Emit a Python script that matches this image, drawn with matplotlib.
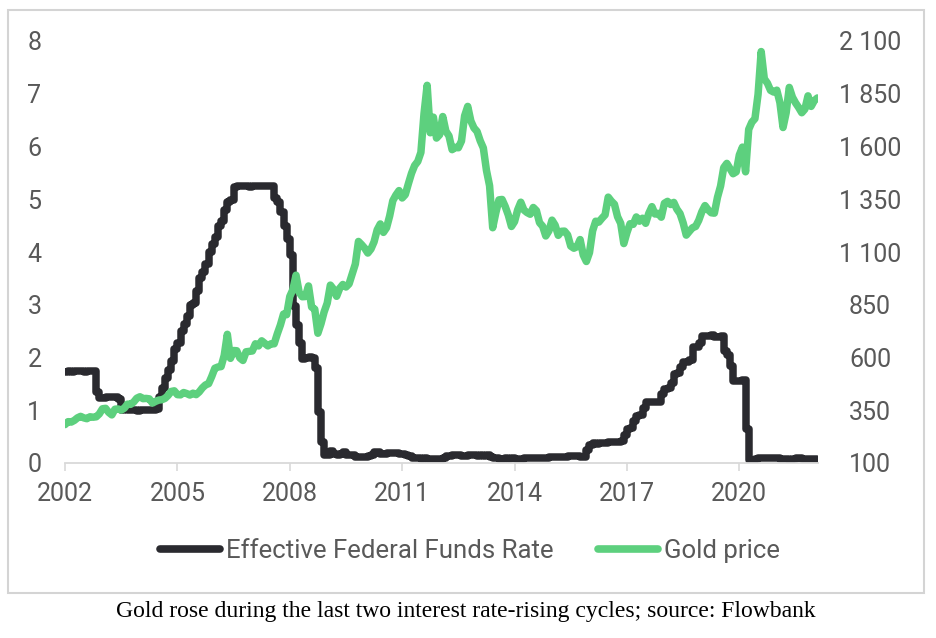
import numpy as np
import matplotlib
matplotlib.use("Agg")
import matplotlib.pyplot as plt
from matplotlib.patches import Rectangle
from matplotlib.ticker import FixedLocator, FuncFormatter

# ---- data (monthly, Jan 2002 .. Feb 2022) ----
start_year = 2002
fed_rate = [
    1.73, 1.74, 1.73, 1.75, 1.75, 1.75, 1.73, 1.74, 1.75, 1.75, 1.34, 1.24,
    1.24, 1.26, 1.25, 1.26, 1.26, 1.22, 1.01, 1.03, 1.01, 1.01, 1.00, 0.98,
    1.00, 1.01, 1.00, 1.00, 1.00, 1.03, 1.26, 1.43, 1.61, 1.76, 1.93, 2.16,
    2.28, 2.50, 2.63, 2.79, 3.00, 3.04, 3.26, 3.50, 3.62, 3.78, 4.00, 4.16,
    4.29, 4.49, 4.59, 4.79, 4.94, 4.99, 5.24, 5.25, 5.25, 5.25, 5.25, 5.24,
    5.25, 5.26, 5.26, 5.25, 5.25, 5.25, 5.26, 5.02, 4.94, 4.76, 4.49, 4.24,
    3.94, 2.98, 2.61, 2.28, 1.98, 2.00, 2.01, 2.00, 1.81, 0.97, 0.39, 0.16,
    0.15, 0.22, 0.18, 0.15, 0.18, 0.21, 0.16, 0.16, 0.15, 0.12, 0.12, 0.12,
    0.11, 0.13, 0.16, 0.20, 0.20, 0.18, 0.18, 0.19, 0.19, 0.19, 0.19, 0.18,
    0.17, 0.16, 0.14, 0.10, 0.09, 0.09, 0.07, 0.10, 0.08, 0.07, 0.08, 0.07,
    0.08, 0.10, 0.13, 0.14, 0.16, 0.16, 0.16, 0.13, 0.14, 0.16, 0.16, 0.16,
    0.14, 0.15, 0.14, 0.15, 0.11, 0.09, 0.09, 0.08, 0.08, 0.09, 0.08, 0.09,
    0.07, 0.07, 0.08, 0.09, 0.09, 0.10, 0.09, 0.09, 0.09, 0.09, 0.09, 0.12,
    0.11, 0.11, 0.11, 0.12, 0.12, 0.13, 0.13, 0.14, 0.14, 0.12, 0.12, 0.24,
    0.34, 0.38, 0.36, 0.37, 0.37, 0.38, 0.39, 0.40, 0.40, 0.40, 0.41, 0.54,
    0.65, 0.66, 0.79, 0.90, 0.91, 1.04, 1.15, 1.16, 1.15, 1.15, 1.16, 1.30,
    1.41, 1.42, 1.51, 1.69, 1.70, 1.82, 1.91, 1.91, 1.95, 2.19, 2.20, 2.27,
    2.40, 2.40, 2.41, 2.42, 2.39, 2.38, 2.40, 2.13, 2.04, 1.83, 1.55, 1.55,
    1.55, 1.58, 0.65, 0.05, 0.05, 0.08, 0.09, 0.10, 0.09, 0.09, 0.09, 0.09,
    0.09, 0.08, 0.07, 0.07, 0.06, 0.08, 0.10, 0.09, 0.08, 0.08, 0.08, 0.08,
    0.08, 0.08,
]
gold_price = [
    282, 296, 294, 302, 314, 321, 314, 310, 319, 317, 319, 333,
    357, 359, 340, 328, 355, 356, 351, 360, 379, 378, 389, 407,
    414, 405, 406, 404, 384, 392, 398, 400, 406, 420, 439, 442,
    424, 423, 434, 429, 422, 431, 424, 437, 456, 470, 476, 510,
    549, 555, 557, 610, 710, 596, 633, 632, 598, 586, 627, 629,
    631, 665, 655, 679, 667, 655, 665, 665, 712, 754, 806, 803,
    889, 922, 990, 909, 888, 889, 939, 839, 829, 715, 760, 816,
    858, 943, 924, 890, 928, 946, 934, 949, 996, 1043, 1150, 1135,
    1118, 1095, 1114, 1148, 1205, 1233, 1193, 1215, 1271, 1343, 1370, 1391,
    1356, 1372, 1424, 1473, 1510, 1529, 1572, 1756, 1890, 1665, 1739, 1640,
    1656, 1742, 1673, 1650, 1585, 1596, 1594, 1626, 1745, 1790, 1721, 1688,
    1671, 1627, 1593, 1487, 1414, 1215, 1286, 1347, 1349, 1316, 1275, 1221,
    1244, 1300, 1336, 1299, 1287, 1279, 1311, 1296, 1239, 1222, 1176, 1200,
    1251, 1227, 1179, 1198, 1199, 1181, 1128, 1118, 1125, 1159, 1086, 1055,
    1097, 1200, 1246, 1242, 1260, 1276, 1360, 1341, 1326, 1267, 1236, 1140,
    1192, 1234, 1231, 1266, 1246, 1260, 1236, 1283, 1315, 1280, 1283, 1265,
    1331, 1340, 1325, 1335, 1303, 1282, 1238, 1180, 1198, 1215, 1221, 1250,
    1291, 1320, 1300, 1286, 1284, 1359, 1413, 1500, 1520, 1495, 1471, 1480,
    1560, 1597, 1480, 1681, 1715, 1732, 1847, 2050, 1921, 1900, 1866, 1858,
    1867, 1808, 1690, 1760, 1880, 1834, 1807, 1785, 1760, 1777, 1840, 1790,
    1817, 1830,
]
year_ticks = [2002, 2005, 2008, 2011, 2014, 2017, 2020]
left_ticks = [0, 1, 2, 3, 4, 5, 6, 7, 8]
right_ticks = [100, 350, 600, 850, 1100, 1350, 1600, 1850, 2100]
fed_label = "Effective Federal Funds Rate"
gold_label = "Gold price"
caption = "Gold rose during the last two interest rate-rising cycles; source: Flowbank"

dates = start_year + np.arange(len(fed_rate)) / 12.0

# ---- style ----
FONT = "Roboto"
TXT = "#595959"
FED_C = "#2a2a2f"
GOLD_C = "#5dd07e"
FS = 18
LW = 5.4

fig = plt.figure(figsize=(9.36, 6.38), dpi=100)
ax = fig.add_axes([65 / 936, 1 - 463 / 638, (818 - 65) / 936, (463 - 41) / 638])
ax2 = ax.twinx()

l1, = ax.plot(dates, fed_rate, color=FED_C, lw=LW, drawstyle="steps-post",
              solid_capstyle="round", solid_joinstyle="round", label=fed_label)
l2, = ax2.plot(dates, gold_price, color=GOLD_C, lw=LW,
               solid_capstyle="round", solid_joinstyle="round", label=gold_label)

ax.set_xlim(2002, 2022.1)
ax.set_ylim(0, 8)
ax2.set_ylim(100, 2100)

for a in (ax, ax2):
    for s in ("top", "left", "right"):
        a.spines[s].set_visible(False)
    a.spines["bottom"].set_color("#d9d9d9")
    a.spines["bottom"].set_linewidth(1.3)
ax2.spines["bottom"].set_visible(False)

ax.xaxis.set_major_locator(FixedLocator(year_ticks))
ax.set_xticklabels([str(y) for y in year_ticks])
ax.tick_params(axis="x", length=6, width=1.2, color="#d9d9d9", pad=8,
               labelsize=FS, labelcolor=TXT)
ax.yaxis.set_major_locator(FixedLocator(left_ticks))
ax.tick_params(axis="y", length=0, pad=17, labelsize=FS, labelcolor=TXT)

ax2.yaxis.set_major_locator(FixedLocator(right_ticks))
ax2.yaxis.set_major_formatter(FuncFormatter(lambda v, p: f"{int(v):,}".replace(",", " ")))
ax2.tick_params(axis="y", length=0, pad=52 * 72 / 100, labelsize=FS, labelcolor=TXT)
for lab in ax2.get_yticklabels():
    lab.set_ha("center")

for lab in ax.get_xticklabels() + ax.get_yticklabels() + ax2.get_yticklabels():
    lab.set_fontfamily(FONT)

leg = fig.legend([l1, l2], [fed_label, gold_label], loc="center",
                 bbox_to_anchor=(470 / 936, 1 - 551 / 638), ncol=2, frameon=False,
                 handlelength=2.35, handletextpad=0.25, columnspacing=1.7,
                 prop={"family": FONT, "size": 18.5})
for t in leg.get_texts():
    t.set_color(TXT)
for h in leg.legend_handles:
    h.set_linewidth(5.5)

fig.patches.append(Rectangle((8 / 936, 1 - 593 / 638), (924 - 8) / 936, (593 - 10) / 638,
                             transform=fig.transFigure, fill=False,
                             edgecolor="#d4d4d4", lw=1.5))

fig.text(466 / 936, 1 - 611 / 638, caption, ha="center", va="center",
         fontsize=17, family="Liberation Serif", color="black")

fig.savefig("out.png", dpi=100)
